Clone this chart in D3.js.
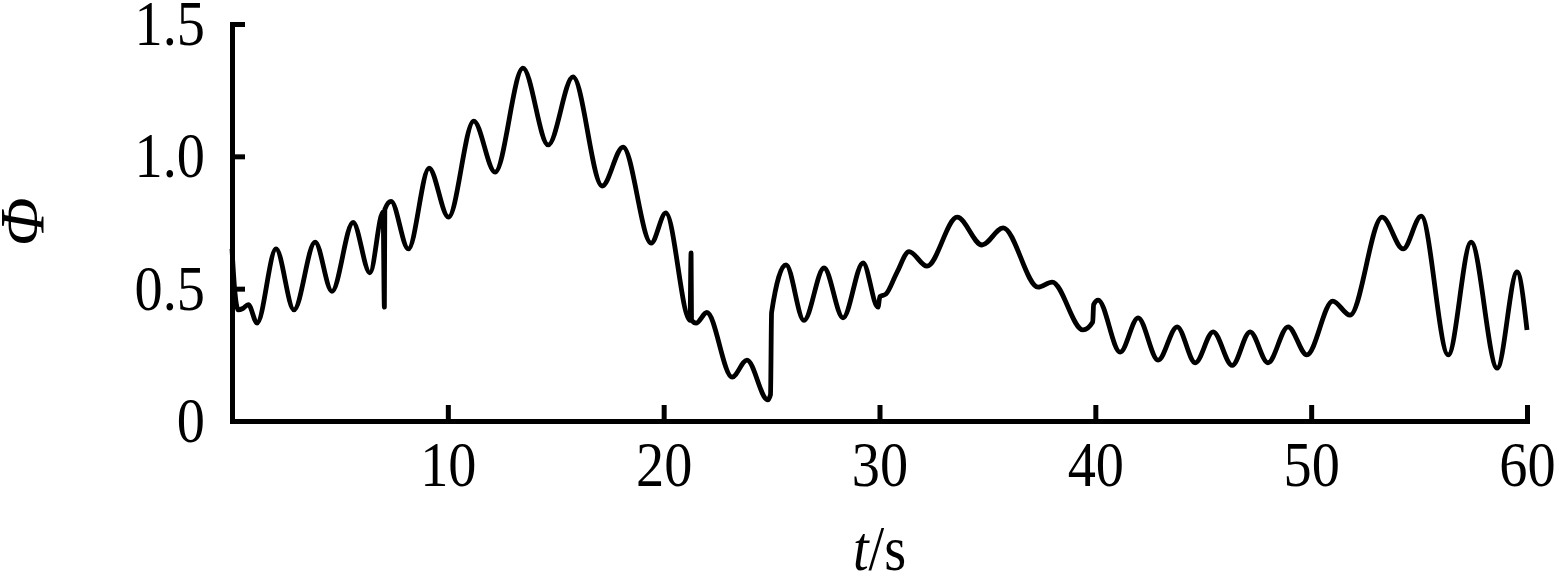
<!DOCTYPE html>
<html>
<head>
<meta charset="utf-8">
<script src="https://cdn.jsdelivr.net/npm/d3@7"></script>
<style>
  html, body { margin: 0; padding: 0; background: #fff; }
  svg { display: block; }
</style>
</head>
<body>
<svg id="chart" width="1559" height="586"></svg>
<script>
// ---- data ----
const timeS = [
  0.0, 0.12, 0.29, 0.5, 0.755, 1.16, 2.04, 2.87, 3.85, 4.63, 5.61, 6.39,
  7.0, 7.06, 7.08, 7.37, 8.17, 9.13, 10.03, 11.2, 12.19, 13.48, 14.65, 15.8,
  17.15, 18.12, 19.42, 20.1, 21.22, 21.27, 21.29, 21.5, 22.0, 23.17, 23.86,
  24.82, 24.95, 25.0, 25.67, 26.5, 27.43, 28.31, 29.24, 29.93, 30.02, 30.3,
  30.8, 31.37, 32.2, 33.6, 34.75, 35.73, 37.35, 38.0, 39.43, 39.88, 39.92,
  40.13, 41.15, 41.98, 42.91, 43.79, 44.63, 45.46, 46.34, 47.17, 48.0, 48.93,
  49.8, 51.0, 51.8, 53.29, 54.26, 55.1, 56.35, 57.41, 58.62, 59.54, 60.0
];
const phiValues = [
  0.65, 0.50, 0.42, 0.425, 0.44, 0.37, 0.65, 0.42, 0.676, 0.49, 0.75, 0.56,
  0.79, 0.43, 0.80, 0.83, 0.65, 0.955, 0.77, 1.133, 0.94, 1.333, 1.043, 1.30,
  0.888, 1.035, 0.672, 0.786, 0.38, 0.635, 0.38, 0.37, 0.41, 0.166, 0.23,
  0.08, 0.10, 0.41, 0.59, 0.38, 0.578, 0.39, 0.597, 0.43, 0.47, 0.48,
  0.56, 0.64, 0.585, 0.77, 0.665, 0.73, 0.506, 0.525, 0.344, 0.374, 0.44,
  0.457, 0.26, 0.39, 0.23, 0.356, 0.22, 0.337, 0.21, 0.337, 0.22, 0.356,
  0.25, 0.453, 0.40, 0.77, 0.65, 0.774, 0.25, 0.676, 0.20, 0.563, 0.344
];
const xTicks = [10, 20, 30, 40, 50, 60];
const yTicks = [0, 0.5, 1.0, 1.5];
const yTickLabels = ["0", "0.5", "1.0", "1.5"];
const xTitle = ["t", "/s"];
const yTitle = "Φ";

// ---- layout ----
const svg = d3.select("#chart");
const x = d3.scaleLinear().domain([0, 60]).range([232, 1527]);
const y = d3.scaleLinear().domain([0, 1.5]).range([421, 24]);
const FONT = "'Liberation Serif', 'Times New Roman', serif";
const FS = 64;
const SX = 0.88;

// x axis
const gx = svg.append("g").attr("transform", `translate(0,${y(0)})`)
  .call(d3.axisBottom(x).tickValues(xTicks).tickSizeInner(-16).tickSizeOuter(0)
    .tickPadding(20).tickFormat(d3.format("d")));
// y axis
const gy = svg.append("g").attr("transform", `translate(${x(0)},0)`)
  .call(d3.axisLeft(y).tickValues(yTicks).tickSizeInner(-13).tickSizeOuter(0)
    .tickPadding(27 / SX).tickFormat((d, i) => yTickLabels[i]));

[gx, gy].forEach(g => {
  g.select(".domain").attr("stroke", "#000").attr("stroke-width", 5)
    .attr("stroke-linecap", "square");
  g.selectAll(".tick line").attr("stroke", "#000").attr("stroke-width", 5);
  g.selectAll(".tick text").attr("fill", "#000")
    .style("font-family", FONT).style("font-size", FS + "px")
    .attr("transform", `scale(${SX},1)`);
});

// line
const line = d3.line()
  .x((d, i) => x(timeS[i]))
  .y((d, i) => y(phiValues[i]))
  .curve(d3.curveMonotoneX);

svg.append("path")
  .datum(phiValues)
  .attr("fill", "none")
  .attr("stroke", "#000")
  .attr("stroke-width", 4.8)
  .attr("stroke-linejoin", "round")
  .attr("d", line);

// axis titles
const xt = svg.append("text")
  .attr("transform", `translate(${(x(0) + x(60)) / 2},570) scale(${SX},1)`)
  .attr("text-anchor", "middle")
  .style("font-family", FONT).style("font-size", FS + "px");
xt.append("tspan").style("font-style", "italic").text(xTitle[0]);
xt.append("tspan").text(xTitle[1]);

svg.append("text")
  .attr("transform", `translate(44,222) rotate(-90)`)
  .attr("text-anchor", "middle")
  .style("font-family", FONT).style("font-size", "64px").style("font-style", "italic")
  .text(yTitle);
</script>
</body>
</html>
